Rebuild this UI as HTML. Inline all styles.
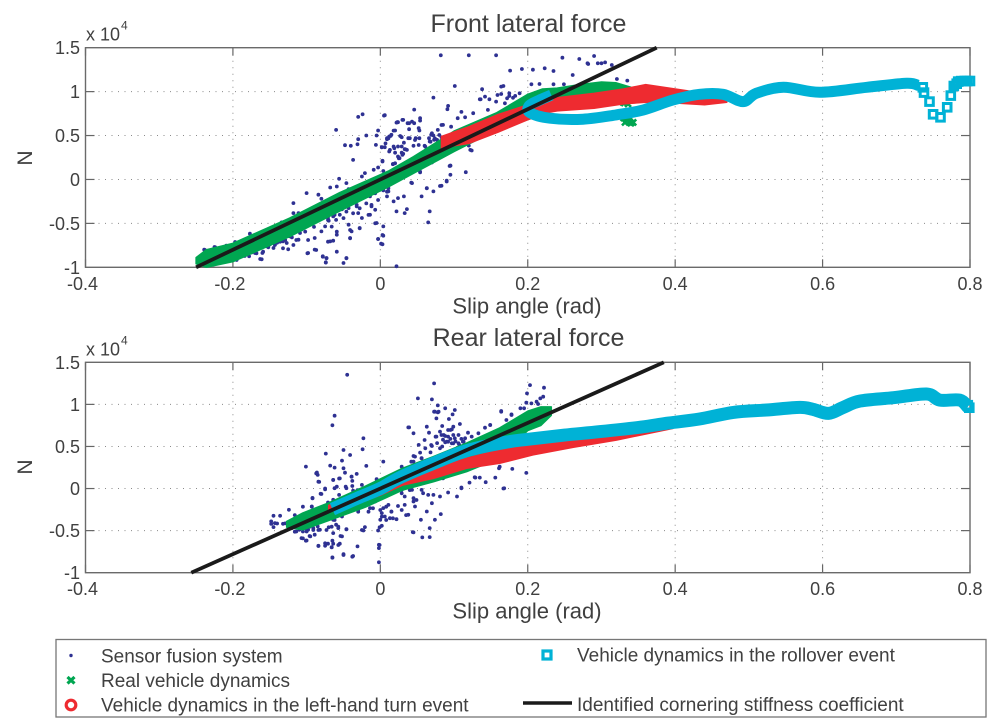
<!DOCTYPE html>
<html lang="en">
<head>
<meta charset="utf-8">
<title>Front and rear lateral force versus slip angle</title>
<style>
html,body{margin:0;padding:0;background:#fff;width:1000px;height:722px;overflow:hidden}
svg{display:block}
text{font-family:"Liberation Sans",sans-serif;fill:#404040}
</style>
</head>
<body>
<svg id="chart" xmlns="http://www.w3.org/2000/svg" width="1000" height="722" viewBox="0 0 1000 722">
  <g id="front-panel"></g>
  <g id="rear-panel"></g>
  <g>
    <rect x="56" y="639.5" width="930" height="77.5" fill="#fff" stroke="#777" stroke-width="1.3"/>
    <g>
      <circle cx="71" cy="655.5" r="1.7" fill="#2e3192"/>
      <text x="101" y="662.5" font-size="19">Sensor fusion system</text>
    </g>
    <g>
      <path d="M67.5 677l7 6.5M74.5 677l-7 6.5" stroke="#00a651" stroke-width="3.2" fill="none"/>
      <text x="101" y="687" font-size="19">Real vehicle dynamics</text>
    </g>
    <g>
      <circle cx="71" cy="705" r="4.8" fill="#fff" stroke="#ee2b30" stroke-width="3.2"/>
      <text x="101" y="711.5" font-size="19">Vehicle dynamics in the left-hand turn event</text>
    </g>
    <g>
      <rect x="543" y="651" width="8" height="8" fill="#fff" stroke="#00b2d6" stroke-width="3.2"/>
      <text x="577" y="661.5" font-size="19">Vehicle dynamics in the rollover event</text>
    </g>
    <g>
      <line x1="523" y1="703" x2="572" y2="703" stroke="#1a1a1a" stroke-width="3.6"/>
      <text x="577" y="711" font-size="19">Identified cornering stiffness coefficient</text>
    </g>
  </g>
</svg>
<script>
var xTickValues = [-0.4, -0.2, 0, 0.2, 0.4, 0.6, 0.8];
var xTickLabels = ['-0.4', '-0.2', '0', '0.2', '0.4', '0.6', '0.8'];
var yTickValues = [1.5, 1, 0.5, 0, -0.5, -1];
var yTickLabels = ['1.5', '1', '0.5', '0', '-0.5', '-1'];

var frontStiffness = 4.0;
var rearStiffness = 3.9;

var frontSensor = [[.082,1.413],[.120,1.413],[.157,1.413],[.101,1.064],[.138,1.027],[.072,.932],[.135,.913],[.092,.837],[.091,.80],[.046,.795],[-.024,.742],[-.030,.712],[.005,.727],[-.060,.564],[.030,.678],[.023,.652],[.054,.697],[.037,.64],[.043,.659],[-.003,.557],[-.005,.5],[-.019,.5],[-.030,.458],[-.048,.39],[-.040,.383],[-.031,.40],[-.006,.394],[.002,.367],[.012,.489],[.009,.458],[.020,.557],[.015,.508],[.029,.481],[.040,.47],[.052,.583],[.053,.47],[.018,.375],[.029,.375],[.036,.337],[.031,.292],[.024,.261],[.045,.383],[-.037,.223],[.003,.212],[-.003,.136],[-.021,.072],[-.025,.034],[-.009,.11],[-.056,.008],[-.046,-.042],[-.059,-.08],[-.068,-.091],[-.043,-.11],[-.100,-.155],[-.084,-.174],[-.080,-.22],[-.118,-.269],[-.030,-.231],[-.023,-.193],[-.014,-.193],[-.005,-.136],[.004,-.125],[.011,-.136],[.009,-.193],[.018,-.25],[.024,-.212],[.032,-.193],[.043,-.042],[.056,-.193],[.063,-.098],[.072,-.136],[.083,-.072],[.090,-.023],[.095,.053],[.095,.159],[.116,.083],[.122,.337],[.054,.08],[.022,-.364],[.036,-.337],[.033,-.383],[.067,-.364],[.065,-.489],[-.012,-.307],[-.007,-.345],[-.014,-.402],[-.030,-.383],[-.025,-.439],[-.055,-.402],[-.064,-.42],[-.043,-.326],[-.032,-.307],[-.005,-.496],[.004,-.534],[-.028,-.553],[-.043,-.515],[-.039,-.591],[-.041,-.667],[-.059,-.629],[-.068,-.705],[.004,-.64],[-.003,-.678],[.001,-.731],[-.080,-.591],[-.089,-.667],[-.075,-.534],[-.071,-.439],[.022,-.989],[-.046,-.894],[-.050,-.951],[-.073,-.894],[-.078,-.875],[-.074,-.943],[-.098,-.837],[-.089,-.799],[-.118,-.61],[-.111,-.686],[-.123,-.648],[-.132,-.705],[-.141,-.686],[-.145,-.78],[-.160,-.837],[-.163,-.905],[-.170,-.837],[-.178,-.875],[-.186,-.856],[-.154,-.761],[-.127,-.723],[-.107,-.57],[-.109,-.61],[-.100,-.5],[-.093,-.48],[-.086,-.46],[-.118,-.383],[-.111,-.383],[-.107,-.402],[-.177,-.617],[-.197,-.712],[-.209,-.754],[-.225,-.769],[-.239,-.799],[-.134,-.489],[-.15,-.74],[-.14,-.72],[-.12,-.66],[-.165,-.78],[-.06,-.46],[-.05,-.44],[-.07,-.47],[-.09,-.54],[.006,.731],[.024,.652],[.031,.678],[.039,.64],[.054,.67],[.046,.64],[.110,.769],[.105,.697],[.136,.913],[.142,.943],[.148,.913],[.159,.962],[.167,1.064],[.175,.981],[.172,.924],[.183,.951],[.189,.981],[.176,1.239],[.192,1.258],[.207,1.25],[.223,1.265],[.235,1.235],[.261,1.189],[.282,1.314],[.295,1.322],[.3,1.322],[.305,1.333],[.314,1.303],[.321,1.144],[.335,1.125],[.205,1.083],[.216,1.087],[.235,1.083],[.249,1.083],[.247,1.386],[.270,1.371],[.290,1.405],[.281,1.322],[.164,1.057],[.164,.973],[.18,.93],[.175,.95],[.009,.47],[.014,.496],[.006,.367],[.019,.356],[.012,.318],[.024,.375],[.033,.345],[.030,.28],[.026,.242],[.039,.572],[.038,.47],[.048,.47],[.053,.557],[.06,.383],[.067,.432],[.073,.451],[.078,.564],[.085,.621],[.069,.508],[.115,.708],[.126,.754],[.146,.792],[.157,.886],[.169,.867],[.124,.33],[.095,.155],[.003,.205],[.070,.193],[.017,.174],
[-.102,-.594],[-.114,-.689],[-.129,-.689],[-.136,-.708],[-.143,-.746],[-.152,-.772],[-.159,-.822],[-.161,-.909],[-.168,-.841],[-.175,-.833],[-.184,-.871],[-.195,-.917],[-.132,-.784],[-.125,-.795],[-.118,-.746],[-.098,-.689],[-.071,-.708],[-.064,-.697],[-.059,-.594],[-.087,-.803],[-.099,-.841],[-.059,-.822],[-.078,-.879],[-.073,-.898],[-.074,-.947],[-.046,-.898],[-.066,-.537],[-.071,-.461],[-.052,-.34],[-.062,-.404],[-.046,-.366],[-.037,-.385],[-.028,-.328],[-.032,-.29],[-.041,-.575],[-.041,-.67],[-.028,-.556],[-.016,-.404],[-.007,-.499],[-.003,-.678],[.003,-.738],[.003,-.632],[-.019,-.272],[-.012,-.29],[-.003,-.234],[.009,-.139],[-.019,-.12],[-.007,-.158],[-.224,-.772],[-.238,-.803],
[.022,.647],[.018,.556],[.011,.468],[.007,.411],[.027,.495],[.002,.366],[.047,.449],[.032,.419],[.034,.343],[.029,.305],[.025,.241],[.020,.184],[.013,.336],[.020,.305],[.017,.176],[.052,.392],[.061,.374],[.068,.430],[.074,.468],[.083,.62],[.096,.601],[.083,.48],[.08,.506],[.07,.525],[.066,.47],[.072,.5],[.077,.45],[.054,.089],[.068,.191],[.094,.153],[.081,-.074],[.090,-.014],[.063,-.101],[.042,-.036],[.004,.096],[.011,-.1],[.12,.385]];

var frontGreenBand = [[-.25,-.89,-.96],[-.236,-.80,-1.0],[-.2,-.727,-.936],[-.123,-.44,-.65],[-.055,-.15,-.36],[.012,.10,-.08],[.045,.26,.07],[.083,.46,.24],[.1,.55,.317],[.158,.76,.563],[.2,.97,.68],[.22,1.03,.74],[.24,1.04,.80],[.27,1.08,.85],[.30,1.11,.88],[.32,1.10,.90],[.34,1.05,.98]];
var frontGreenExtra = [[.331,.87],[.333,.91],[.329,.88],[.336,.86],[.335,.68],[.338,.66],[.332,.65],[.34,.64],[.33,.70],[.336,.72],[.343,.65]];
var frontRedBand = [[.083,.49,.36],[.12,.60,.41],[.16,.74,.54],[.2,.85,.68],[.225,.90,.76],[.24,.93,.78],[.29,.98,.81],[.33,1.03,.86],[.36,1.08,.88],[.40,1.03,.87],[.44,.98,.85],[.47,.92,.88]];
var frontCyanLine = [[.232,.96],[.215,.90],[.202,.84],[.203,.76],[.230,.697],[.275,.686],[.320,.735],[.357,.792],[.397,.905],[.433,.970],[.465,.970],[.492,.886],[.510,.981],[.547,1.049],[.596,.992],[.660,1.049],[.714,1.095],[.730,1.07]];
var frontCyanSquares = [[.736,1.049],[.7376,.989],[.745,.886],[.750,.742],[.760,.708],[.769,.822],[.774,.955],[.778,1.064],[.782,1.09],[.784,1.114],[.788,1.12],[.793,1.121],[.796,1.12],[.8,1.121]];

var rearSensor = [[-.045,1.352],[.073,1.249],[.051,1.071],[.070,1.059],[-.062,.866],[-.065,.751],[.078,.988],[.088,.953],[.073,.913],[.078,.905],[.101,.933],[.098,.881],[.093,.826],[.076,.834],[.038,.727],[.063,.735],[.045,.656],[-.023,.597],[-.024,.466],[-.050,.458],[-.074,.415],[-.041,.399],[-.052,.332],[-.101,.261],[-.068,.273],[-.062,.249],[-.050,.241],[-.019,.269],[.004,.32],[-.086,.19],[-.085,.162],[-.056,.119],[-.064,.103],[-.039,.142],[-.032,.174],[-.038,.091],[-.083,.079],[-.075,0],[-.062,.004],[-.046,.004],[-.037,-.024],[-.025,.043],[-.019,.004],[-.005,.111],[-.081,-.063],[-.056,-.075],[-.064,-.134],[-.071,-.166],[-.053,-.134],[-.046,-.095],[-.032,-.115],[-.021,-.194],[-.014,-.233],[-.030,-.253],[-.007,-.154],[.004,-.233],[.011,-.194],[.002,-.292],[.015,-.273],[.022,-.364],[.013,-.352],[.006,-.332],[0,-.372],[.002,-.443],[-.003,-.498],[-.021,-.458],[-.023,-.498],[-.046,-.482],[-.057,-.47],[-.064,-.372],[-.071,-.352],[-.08,-.372],[-.052,-.332],[-.052,-.569],[-.064,-.53],[-.055,-.656],[-.064,-.656],[-.071,-.656],[-.084,-.68],[-.075,-.68],[-.066,-.696],[-.031,-.688],[-.050,-.779],[-.038,-.81],[-.065,-.818],[-.002,-.668],[-.002,-.708],[-.002,-.877],[-.1,-.617],[-.107,-.589],[-.095,-.569],[-.089,-.549],[-.105,-.51],[-.098,-.49],[-.091,-.47],[-.082,-.49],[-.145,-.324],[-.136,-.324],[-.124,-.253],[-.148,-.391],[-.143,-.411],[-.132,-.419],[-.145,-.458],[-.114,-.51],[-.093,-.213],[-.092,-.111],[-.148,-.42],[-.14,-.415],[-.125,-.43],[-.12,-.47],[-.11,-.49],[-.1,-.51],[-.085,-.45],[-.07,-.46],[-.06,-.43],[.045,-.115],[.033,-.095],[.022,-.016],[.029,-.016],[.043,-.016],[.056,-.016],[.058,-.055],[.065,-.075],[.072,-.075],[.081,-.095],[.092,-.047],[.104,-.095],[.045,-.154],[.047,-.213],[.033,-.194],[.038,-.312],[.063,-.273],[.070,-.174],[.074,-.372],[.082,-.304],[.055,-.372],[.044,-.518],[.057,-.581],[.067,-.577],[.067,-.47],[.110,.012],[.121,.071],[.129,.13],[.135,.13],[.143,.075],[.156,.13],[.123,.241],[.045,.387],[.056,.36],[.052,.518],[.061,.478],[.070,.506],[.081,.478],[.076,.617],[.086,.636],[.092,.617],[.099,.636],[.106,.636],[.115,.597],[.124,.617],[.09,.557],[.097,.538],[.113,.557],[.081,.676],[.095,.696],[.108,.767],[.119,.664],[.142,.723],[.149,.755],[.099,.735],[.054,.427],[.045,.32],[.054,.3],[.085,.58],[.088,.55],[.095,.59],[.102,.56],[.107,.52],[.11,.59],[.084,.5],[.077,.54],[.068,.43],[.203,1.229],[.222,1.198],[.199,1.13],[.221,1.091],[.217,1.071],[.212,1.032],[.205,1.012],[.198,1.02],[.190,.953],[.195,.953],[.178,.881],[.171,.814],[.164,.921],[.179,.233],[.172,.34],[.198,.186],[.167,0],[.162,.26],
[-.087,.18],[-.084,.081],[-.064,.101],[-.055,.121],[-.048,.188],[-.039,.141],[-.059,.022],[-.075,-.01],[-.08,-.065],[-.092,-.117],[-.047,.022],[-.038,.03],[-.031,-.018],[-.014,.03],[-.116,-.315],[-.105,-.216],[-.093,-.216],[-.129,-.414],[-.116,-.513],[-.102,-.473],[-.096,-.453],[-.091,-.493],[-.105,-.592],[-.101,-.62],[-.096,-.564],[-.084,-.493],[-.073,-.493],[-.066,-.453],[-.057,-.453],[-.062,-.374],[-.071,-.334],[-.046,-.485],[-.054,-.564],[-.065,-.62],[-.075,-.651],[-.084,-.683],[-.057,-.671],[-.066,-.699],[-.05,-.79],[-.037,-.802],[-.065,-.822],[-.025,-.493],[-.001,-.461],[-.001,-.671],[.002,-.334],[.008,-.374],[.017,-.354],[.045,-.521],[.035,-.315],[.029,-.255],[.024,-.208],[-.03,-.275],[-.016,-.275],[-.01,-.235],[0,-.255],[.008,-.216],[.015,-.275],[.029,-.057],[.04,-.018],[.049,-.136],
[.039,.727],[.066,.664],[.06,.577],[.069,.517],[.074,.913],[.079,.913],[.084,.743],[.092,.696],[.097,.703],[.075,.616],[.083,.636],[.088,.624],[.101,.597],[.092,.557],[.099,.537],[.106,.537],[.112,.557],[.133,.656],[.149,.755],[.164,.913],[.178,.874],[.214,1.004],[.128,.133],[.161,.24],[.085,.121],[.11,.003],[.168,.003],[.056,.359],[.047,.379],[.042,.319],[.029,.26]];

var rearGreenBand = [[-.127,-.39,-.46],[-.105,-.29,-.49],[-.07,-.17,-.38],[-.02,.03,-.22],[.03,.24,-.02],[.072,.38,.08],[.117,.54,.20],[.162,.72,.36],[.2,.92,.69],[.218,.97,.75],[.232,.97,.87]];
var rearRedBand = [[-.07,-.2,-.28],[0,.07,-.08],[.03,.16,.04],[.072,.24,.12],[.117,.36,.24],[.162,.46,.30],[.207,.53,.40],[.262,.60,.49],[.32,.68,.575],[.397,.85,.715]];
var rearCyanLine = [[-.065,-.245],[-.03,-.11],[0,.0],[.0265,.13],[.072,.30],[.117,.45],[.17,.55],[.2,.585],[.25,.635],[.298,.676],[.354,.73],[.388,.775],[.433,.826],[.479,.905],[.524,.933],[.569,.964],[.587,.94],[.608,.893],[.628,.964],[.651,1.04],[.696,1.079],[.741,1.123],[.759,1.051],[.786,1.051],[.797,.97]];
var rearCyanSquares = [[.797,.99],[.799,.96]];

var SVG_NS = 'http://www.w3.org/2000/svg';
var xLeft = 85.5, xRight = 970, xMin = -0.4, xMax = 0.8, yMin = -1, yMax = 1.5;

function mk(parent, tag, attrs, name) {
  var el = document.createElementNS(SVG_NS, tag);
  for (var k in attrs) { el.setAttribute(k, attrs[k]); }
  
  
  parent.appendChild(el);
  return el;
}

function smoothPath(p) {
  var d = 'M' + p[0][0].toFixed(1) + ' ' + p[0][1].toFixed(1);
  for (var i = 0; i < p.length - 1; i++) {
    var a = p[Math.max(i - 1, 0)], b = p[i], c = p[i + 1], e = p[Math.min(i + 2, p.length - 1)];
    var c1x = b[0] + (c[0] - a[0]) / 6, c1y = b[1] + (c[1] - a[1]) / 6;
    var c2x = c[0] - (e[0] - b[0]) / 6, c2y = c[1] - (e[1] - b[1]) / 6;
    d += 'C' + c1x.toFixed(1) + ' ' + c1y.toFixed(1) + ' ' + c2x.toFixed(1) + ' ' + c2y.toFixed(1) + ' ' + c[0].toFixed(1) + ' ' + c[1].toFixed(1);
  }
  return d;
}

function drawPanel(cfg) {
  var root = document.getElementById(cfg.id);
  function sx(v) { return xLeft + (v - xMin) / (xMax - xMin) * (xRight - xLeft); }
  function sy(v) { return cfg.bottom - (v - yMin) / (yMax - yMin) * (cfg.bottom - cfg.top); }
  function f(v) { return v.toFixed(1); }

  var i, t;
  for (i = 0; i < xTickValues.length; i++) {
    var gx = sx(xTickValues[i]);
    if (i > 0 && i < xTickValues.length - 1) {
      mk(root, 'line', {x1: gx, x2: gx, y1: cfg.top, y2: cfg.bottom, stroke: '#8a8a8a', 'stroke-width': 1, 'stroke-dasharray': '1 5.5'}, 'x-grid-line');
    }
    mk(root, 'line', {x1: gx, x2: gx, y1: cfg.top, y2: cfg.top + 8, stroke: '#666', 'stroke-width': 1.2}, 'x-tick-top');
    mk(root, 'line', {x1: gx, x2: gx, y1: cfg.bottom, y2: cfg.bottom - 8, stroke: '#666', 'stroke-width': 1.2}, 'x-tick-bottom');
    t = mk(root, 'text', {x: gx - (i === 0 ? 3 : i === 1 ? 3 : 0), y: cfg.bottom + 22.5, 'text-anchor': 'middle', 'font-size': 18}, 'x-tick-label');
    t.textContent = xTickLabels[i];
  }
  for (i = 0; i < yTickValues.length; i++) {
    var gy = sy(yTickValues[i]);
    if (i > 0 && i < yTickValues.length - 1) {
      mk(root, 'line', {x1: xLeft, x2: xRight, y1: gy, y2: gy, stroke: '#8a8a8a', 'stroke-width': 1, 'stroke-dasharray': '1 5.5'}, 'y-grid-line');
      mk(root, 'line', {x1: xLeft, x2: xLeft + 9, y1: gy, y2: gy, stroke: '#666', 'stroke-width': 1.2}, 'y-tick-left');
      mk(root, 'line', {x1: xRight, x2: xRight - 9, y1: gy, y2: gy, stroke: '#666', 'stroke-width': 1.2}, 'y-tick-right');
    }
    t = mk(root, 'text', {x: 80, y: gy + 6.5, 'text-anchor': 'end', 'font-size': 18}, 'y-tick-label');
    t.textContent = yTickLabels[i];
  }

  mk(root, 'rect', {x: xLeft, y: cfg.top, width: xRight - xLeft, height: cfg.bottom - cfg.top, fill: 'none', stroke: '#6a6a6a', 'stroke-width': 1.4}, 'plot-frame');

  function drawBand(rows, color, name) {
    var pts = [], j;
    for (j = 0; j < rows.length; j++) { pts.push(f(sx(rows[j][0])) + ',' + f(sy(rows[j][1]))); }
    for (j = rows.length - 1; j >= 0; j--) { pts.push(f(sx(rows[j][0])) + ',' + f(sy(rows[j][2]))); }
    mk(root, 'polygon', {points: pts.join(' '), fill: color, stroke: color, 'stroke-width': 1.5, 'stroke-linejoin': 'round'}, name);
  }

  var dots = mk(root, 'g', {fill: '#2e3192'}, 'sensor-fusion-points');
  for (i = 0; i < cfg.sensor.length; i++) {
    mk(dots, 'circle', {cx: f(sx(cfg.sensor[i][0])), cy: f(sy(cfg.sensor[i][1])), r: 1.9}, 'sensor-fusion-point');
  }

  drawBand(cfg.green, '#00a651', 'real-vehicle-dynamics-band');
  for (i = 0; i < cfg.greenExtra.length; i++) {
    var ex = sx(cfg.greenExtra[i][0]), ey = sy(cfg.greenExtra[i][1]);
    mk(root, 'path', {d: 'M' + f(ex - 3) + ' ' + f(ey - 3) + 'l6 6M' + f(ex + 3) + ' ' + f(ey - 3) + 'l-6 6', stroke: '#00a651', 'stroke-width': 2.6, fill: 'none'}, 'real-vehicle-dynamics-point');
  }
  drawBand(cfg.red, '#ee2b30', 'left-hand-turn-band');

  var line = [];
  for (i = 0; i < cfg.cyan.length; i++) { line.push([sx(cfg.cyan[i][0]), sy(cfg.cyan[i][1])]); }
  mk(root, 'path', {d: smoothPath(line), fill: 'none', stroke: '#00b2d6', 'stroke-width': cfg.cyanWidth, 'stroke-linejoin': 'round', 'stroke-linecap': 'butt'}, 'rollover-event-band');
  for (i = 0; i < cfg.squares.length; i++) {
    mk(root, 'rect', {x: f(sx(cfg.squares[i][0]) - 3.8), y: f(sy(cfg.squares[i][1]) - 3.8), width: 7.6, height: 7.6, fill: 'none', stroke: '#00b2d6', 'stroke-width': 3}, 'rollover-event-point');
  }

  var kx0 = yMin / cfg.k, kx1 = yMax / cfg.k;
  mk(root, 'line', {x1: f(sx(kx0)), y1: f(sy(yMin)), x2: f(sx(kx1)), y2: f(sy(yMax)), stroke: '#1a1a1a', 'stroke-width': 3.8}, 'cornering-stiffness-line');

  t = mk(root, 'text', {x: 528.5, y: cfg.titleY, 'text-anchor': 'middle', 'font-size': 25}, 'chart-title');
  t.textContent = cfg.title;
  t = mk(root, 'text', {x: 527, y: cfg.bottom + 46, 'text-anchor': 'middle', 'font-size': 22}, 'x-axis-title');
  t.textContent = 'Slip angle (rad)';
  t = mk(root, 'text', {x: 0, y: 0, 'text-anchor': 'middle', 'font-size': 21, transform: 'translate(32,' + cfg.nY + ') rotate(-90)'}, 'y-axis-title');
  t.textContent = 'N';
  t = mk(root, 'text', {x: 86, y: cfg.top - 7, 'font-size': 18}, 'y-axis-multiplier');
  t.textContent = 'x 10';
  t = mk(root, 'text', {x: 121, y: cfg.top - 18, 'font-size': 12}, 'y-axis-multiplier-exponent');
  t.textContent = '4';
}

drawPanel({id: 'front-panel', top: 47.7, bottom: 267.3, k: frontStiffness, sensor: frontSensor, green: frontGreenBand, greenExtra: frontGreenExtra, red: frontRedBand, cyan: frontCyanLine, squares: frontCyanSquares, cyanWidth: 11, title: 'Front lateral force', titleY: 32, nY: 158});
drawPanel({id: 'rear-panel', top: 362.3, bottom: 572.7, k: rearStiffness, sensor: rearSensor, green: rearGreenBand, greenExtra: [], red: rearRedBand, cyan: rearCyanLine, squares: rearCyanSquares, cyanWidth: 13, title: 'Rear lateral force', titleY: 346, nY: 467});
</script>
</body>
</html>
